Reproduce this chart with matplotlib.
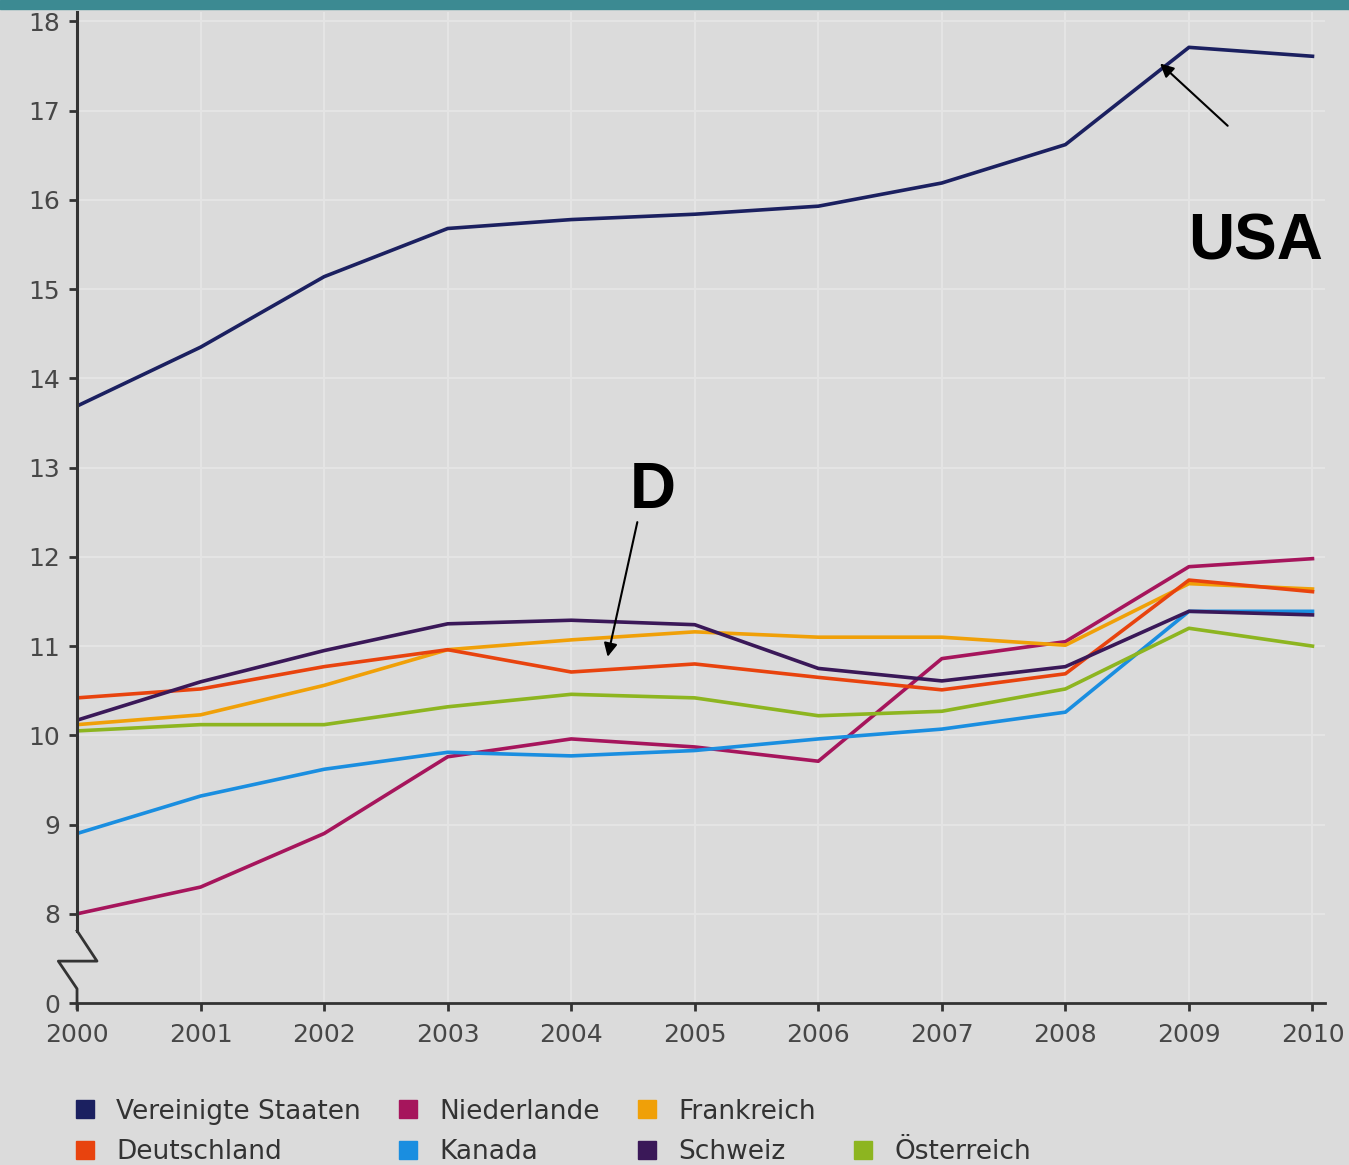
import numpy as np
import matplotlib
import matplotlib.pyplot as plt
from matplotlib.lines import Line2D

matplotlib.use("Agg")
matplotlib.rcParams.update({
    "font.family": ["DejaVu Sans"],
    "font.size": 18,
})

# Daten (Gesundheitsausgaben in % des BIP)
YEARS = list(range(2000, 2011))
usa = [13.69, 14.35, 15.14, 15.68, 15.78, 15.84, 15.93, 16.19, 16.62, 17.71, 17.61]
niederlande = [8.00, 8.30, 8.90, 9.76, 9.96, 9.87, 9.71, 10.86, 11.05, 11.89, 11.98]
frankreich = [10.12, 10.23, 10.56, 10.96, 11.07, 11.16, 11.10, 11.10, 11.01, 11.70, 11.64]
deutschland = [10.42, 10.52, 10.77, 10.96, 10.71, 10.80, 10.65, 10.51, 10.69, 11.74, 11.61]
kanada = [8.90, 9.32, 9.62, 9.81, 9.77, 9.83, 9.96, 10.07, 10.26, 11.39, 11.39]
schweiz = [10.17, 10.60, 10.95, 11.25, 11.29, 11.24, 10.75, 10.61, 10.77, 11.39, 11.35]
oesterreich = [10.05, 10.12, 10.12, 10.32, 10.46, 10.42, 10.22, 10.27, 10.52, 11.20, 11.00]

SERIES = [
    ("Vereinigte Staaten", usa, "#1b2060"),
    ("Deutschland", deutschland, "#e8430e"),
    ("Niederlande", niederlande, "#a6155c"),
    ("Kanada", kanada, "#1a8ee0"),
    ("Frankreich", frankreich, "#f0a008"),
    ("Schweiz", schweiz, "#3a1858"),
    ("Österreich", oesterreich, "#8db520"),
]
DRAW_ORDER = ["Niederlande", "Kanada", "Österreich", "Frankreich", "Deutschland", "Schweiz", "Vereinigte Staaten"]

Y_TICKS = list(range(8, 19))
BREAK_POS = 7.0   # Stelle der unterbrochenen Achse, beschriftet mit "0"

BG = "#dbdbdb"
GRID = "#e4e4e4"
AXC = "#333333"

fig = plt.figure(figsize=(13.49, 11.65), dpi=100, facecolor=BG)
ax = fig.add_axes([0.0571, 0.139, 0.925, 0.851])
ax.set_facecolor(BG)

# Kopfleiste
fig.patches.append(plt.Rectangle((0, 0.9925), 1, 0.0075, transform=fig.transFigure,
                                 color="#3c8a92", zorder=0))

lookup = {n: (v, c) for n, v, c in SERIES}
for name in DRAW_ORDER:
    vals, col = lookup[name]
    ax.plot(YEARS, vals, color=col, lw=2.6, solid_joinstyle="round", zorder=3)

ax.set_xlim(2000, 2010.1)
ax.set_ylim(BREAK_POS, 18.11)
ax.set_xticks(YEARS)
ax.set_yticks([BREAK_POS] + Y_TICKS)
ax.set_yticklabels(["0"] + [str(t) for t in Y_TICKS])
for t in Y_TICKS:
    ax.axhline(t, color=GRID, lw=1.5, zorder=1)
for yr in YEARS[1:]:
    ax.axvline(yr, color=GRID, lw=1.5, zorder=1)

for s in ["top", "right", "left"]:
    ax.spines[s].set_visible(False)
ax.spines["bottom"].set_color(AXC)
ax.spines["bottom"].set_linewidth(2)
ax.tick_params(axis="both", colors=AXC, labelcolor="#474747", width=2, length=6, labelsize=18)
ax.tick_params(axis="x", pad=8)
ax.tick_params(axis="y", pad=6)

# linke Achse mit Bruchsymbol
yt = ax.get_yaxis_transform()
ax.add_line(Line2D([0, 0], [7.81, 18.11], transform=yt, color=AXC, lw=2.2, clip_on=False, zorder=4))
ax.add_line(Line2D([0, 0.016, -0.015, 0, 0], [7.81, 7.47, 7.47, 7.16, 6.94],
                   transform=yt, color=AXC, lw=2.0, clip_on=False, zorder=4))

# Annotationen
ax.annotate("", xy=(2008.75, 17.55), xytext=(2009.33, 16.81),
            arrowprops=dict(arrowstyle="-|>", color="black", lw=1.5, mutation_scale=20))
ax.text(2009.54, 15.52, "USA", fontsize=46, fontweight="bold", family="Liberation Sans",
        ha="center", va="center", color="black")
ax.annotate("", xy=(2004.29, 10.85), xytext=(2004.54, 12.42),
            arrowprops=dict(arrowstyle="-|>", color="black", lw=1.5, mutation_scale=20))
ax.text(2004.66, 12.74, "D", fontsize=46, fontweight="bold", family="Liberation Sans",
        ha="center", va="center", color="black")

# Legende
handles = []
labels = []
order = ["Vereinigte Staaten", "Deutschland", "Niederlande", "Kanada", "Frankreich", "Schweiz", None, "Österreich"]
for name in order:
    if name is None:
        handles.append(Line2D([], [], ls="none", marker="none"))
        labels.append("")
    else:
        handles.append(Line2D([], [], ls="none", marker="s", markersize=13, color=lookup[name][1]))
        labels.append(name)
leg = fig.legend(handles, labels, ncol=4, loc="upper left", bbox_to_anchor=(0.047, 0.066),
                 frameon=False, fontsize=19, handlelength=0.8, handletextpad=0.8,
                 columnspacing=1.38, labelspacing=0.55, borderaxespad=0)
for t in leg.get_texts():
    t.set_color("#333333")

fig.savefig("out.png", dpi=100, facecolor=BG)
